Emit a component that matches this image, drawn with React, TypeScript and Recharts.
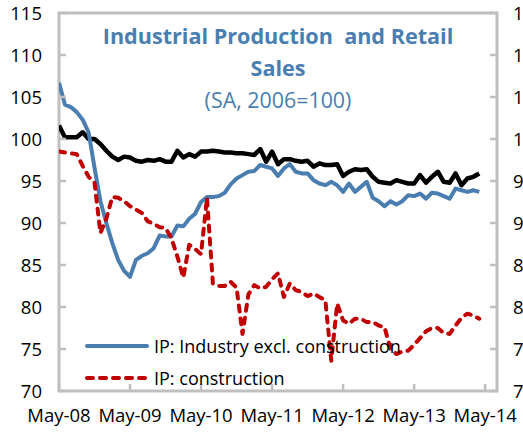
import React from "react";
import {
  LineChart,
  Line,
  XAxis,
  YAxis,
  ReferenceArea,
  Legend,
} from "recharts";

// monthly index, 0 = May-08
const tickLabels = ["May-08", "May-09", "May-10", "May-11", "May-12", "May-13", "May-14"];
const yTicks = [70, 75, 80, 85, 90, 95, 100, 105, 110, 115];

const industry = [
  106.7, 104.1, 103.8, 103.2, 102.3, 100.8, 96.6, 92.6, 90.0, 87.6, 85.6, 84.3,
  83.6, 85.6, 86.1, 86.4, 87.0, 88.5, 88.4, 88.4, 89.7, 89.6, 90.5, 91.1,
  92.5, 93.1, 93.1, 93.2, 93.6, 94.6, 95.3, 95.7, 96.1, 96.2, 96.9, 96.7,
  96.5, 95.6, 96.5, 97.0, 96.1, 95.9, 95.9, 95.1, 94.7, 94.5, 94.9, 94.5,
  93.7, 94.7, 93.7, 94.3, 94.9, 93.0, 92.6, 92.0, 92.6, 92.2, 92.6, 93.3,
  93.2, 93.5, 92.9, 93.6, 93.5, 93.2, 92.9, 94.1, 93.9, 93.7, 93.9, 93.7,
];

const construction = [
  98.5, 98.4, 98.3, 98.2, 96.8, 95.5, 94.8, 88.8, 90.5, 93.1, 93.0, 92.6,
  92.0, 91.6, 91.2, 90.2, 89.9, 89.5, 89.4, 88.2, 86.0, 83.5, 87.4, 86.9,
  86.3, 93.0, 82.8, 82.5, 82.5, 83.0, 82.3, 76.8, 81.5, 82.6, 82.2, 82.4,
  83.3, 84.0, 81.2, 82.8, 82.0, 81.8, 81.3, 81.6, 81.2, 80.8, 73.6, 80.4,
  78.4, 78.0, 78.6, 78.6, 78.2, 78.2, 77.8, 77.6, 75.0, 74.4, 74.7, 74.8,
  75.5, 76.3, 77.1, 77.5, 77.5, 76.9, 76.8, 77.8, 78.7, 79.2, 79.0, 78.6,
];

const retail = [
  101.6, 100.2, 100.2, 100.2, 100.8, 100.0, 100.0, 99.4, 98.6, 97.9, 97.5, 97.9,
  97.8, 97.4, 97.3, 97.5, 97.4, 97.6, 97.3, 97.3, 98.6, 97.8, 98.2, 97.9,
  98.5, 98.5, 98.6, 98.5, 98.4, 98.4, 98.3, 98.3, 98.2, 98.1, 98.8, 97.3,
  98.5, 97.0, 97.6, 97.6, 97.4, 97.3, 97.4, 96.7, 97.1, 96.9, 96.9, 97.0,
  95.6, 96.1, 96.4, 96.3, 96.4, 95.5, 94.9, 94.8, 94.7, 95.1, 94.9, 94.7,
  94.7, 95.7, 94.8, 95.5, 96.1, 94.9, 94.8, 95.9, 94.5, 95.3, 95.5, 95.9,
];

const data = industry.map((v, i) => ({
  m: i,
  industry: v,
  construction: construction[i],
  retail: retail[i],
}));

const BLUE = "#4A7EB1";
const RED = "#C00000";
const GRID = "#BFBFBF";
const FONT = "'Open Sans', sans-serif";

const tickStyle = { fill: "#000", fontSize: 18.5, fontFamily: FONT };

function LegendBox() {
  const rows = [
    { label: "IP: Industry excl. construction", color: BLUE, dash: undefined },
    { label: "IP: construction", color: RED, dash: "6 7" },
  ];
  return (
    <div style={{ fontFamily: FONT, fontSize: 18, color: "#000" }}>
      {rows.map((r) => (
        <div key={r.label} style={{ display: "flex", alignItems: "center", height: 32 }}>
          <svg width={68} height={10} style={{ marginRight: 2 }}>
            <line
              x1={3}
              y1={5}
              x2={63}
              y2={5}
              stroke={r.color}
              strokeWidth={4}
              strokeLinecap="round"
              strokeDasharray={r.dash}
            />
          </svg>
          <span style={{ whiteSpace: "pre" }}>{r.label}</span>
        </div>
      ))}
    </div>
  );
}

export default function App() {
  return (
    <div
      style={{
        position: "absolute",
        left: 0,
        top: 0,
        width: 523,
        height: 434,
        overflow: "hidden",
        background: "#fff",
      }}
    >
      <LineChart
        width={570}
        height={434}
        data={data}
        margin={{ top: 13, right: 0, bottom: 0, left: 0 }}
      >
        <XAxis
          dataKey="m"
          type="number"
          domain={[0, 74]}
          ticks={[0, 12, 24, 36, 48, 60, 72]}
          tickFormatter={(v: number) => tickLabels[v / 12]}
          height={43}
          axisLine={false}
          tickSize={-7}
          tickMargin={25}
          tickLine={{ stroke: GRID, strokeWidth: 2.5 }}
          tick={tickStyle}
          interval={0}
          allowDataOverflow
        />
        <YAxis
          yAxisId="left"
          domain={[70, 115]}
          ticks={yTicks}
          width={59}
          axisLine={false}
          tickSize={-7}
          tickMargin={24}
          tickLine={{ stroke: GRID, strokeWidth: 2.5 }}
          tick={tickStyle}
          interval={0}
          allowDataOverflow
        />
        <YAxis
          yAxisId="right"
          orientation="right"
          domain={[70, 115]}
          ticks={yTicks}
          width={73}
          axisLine={false}
          tickSize={-7}
          tickMargin={23}
          tickLine={{ stroke: GRID, strokeWidth: 2.5 }}
          tick={tickStyle}
          interval={0}
          allowDataOverflow
        />
        <ReferenceArea
          yAxisId="left"
          x1={0}
          x2={74}
          y1={70}
          y2={115}
          fill="none"
          stroke={GRID}
          strokeWidth={3}
        />
        <Line
          yAxisId="left"
          dataKey="retail"
          stroke="#000"
          strokeWidth={4.5}
          dot={false}
          strokeLinejoin="round"
          isAnimationActive={false}
        />
        <Line
          yAxisId="left"
          dataKey="industry"
          stroke={BLUE}
          strokeWidth={4}
          dot={false}
          strokeLinejoin="round"
          isAnimationActive={false}
        />
        <Line
          yAxisId="left"
          dataKey="construction"
          stroke={RED}
          strokeWidth={4}
          strokeDasharray="6 7"
          strokeLinecap="round"
          dot={false}
          strokeLinejoin="round"
          isAnimationActive={false}
        />
        <Legend
          layout="vertical"
          align="center"
          verticalAlign="middle"
          wrapperStyle={{ left: 84, top: 330, width: "auto" }}
          content={() => <LegendBox />}
        />
      </LineChart>
      <div
        style={{
          position: "absolute",
          left: 78,
          top: 20,
          width: 400,
          textAlign: "center",
          fontFamily: FONT,
          color: BLUE,
          lineHeight: "32px",
        }}
      >
        <div style={{ fontWeight: 700, fontSize: 21.6, whiteSpace: "pre" }}>
          {"Industrial Production  and Retail"}
        </div>
        <div style={{ fontWeight: 700, fontSize: 21.6 }}>Sales</div>
        <div style={{ fontSize: 21.4 }}>(SA, 2006=100)</div>
      </div>
    </div>
  );
}
